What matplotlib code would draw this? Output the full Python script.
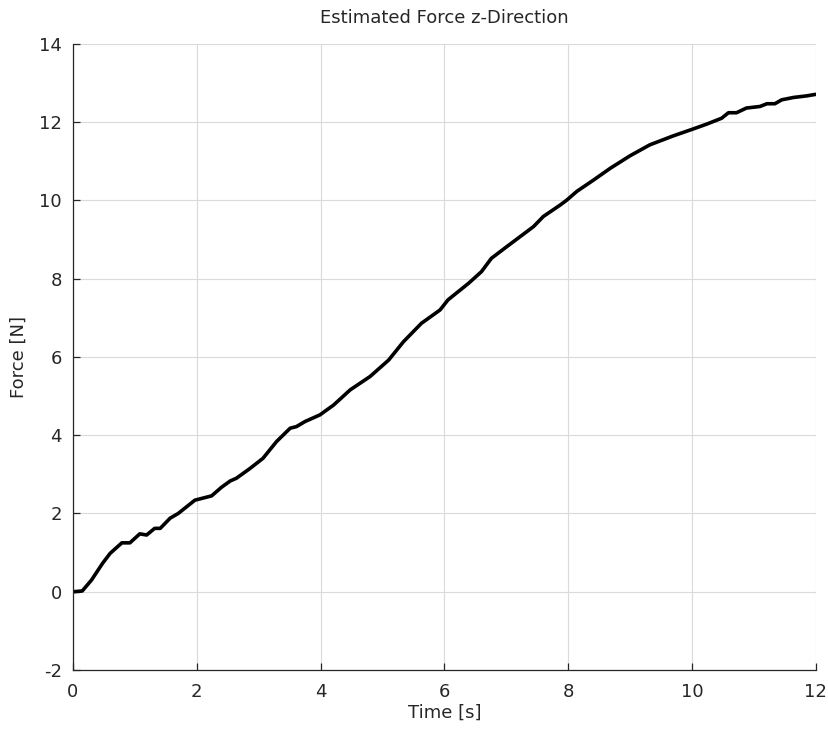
import numpy as np
import matplotlib.pyplot as plt

plt.rcParams["axes.unicode_minus"] = False

# estimated vertical force over the run
t_s = [0.0, 0.15, 0.3, 0.48, 0.60, 0.79, 0.92, 1.08, 1.19, 1.32, 1.41, 1.57,
       1.70, 1.97, 2.24, 2.40, 2.54, 2.64, 2.86, 3.07, 3.29, 3.51, 3.61, 3.75,
       3.99, 4.21, 4.48, 4.80, 5.10, 5.34, 5.63, 5.93, 6.06, 6.39, 6.60, 6.76,
       7.01, 7.44, 7.60, 7.87, 7.98, 8.14, 8.41, 8.68, 9.00, 9.32, 9.70, 10.01,
       10.24, 10.48, 10.59, 10.72, 10.88, 11.10, 11.21, 11.34, 11.45, 11.64,
       11.85, 12.0]
force_n = [0.0, 0.02, 0.30, 0.73, 0.98, 1.25, 1.25, 1.48, 1.45, 1.62, 1.62, 1.88,
           2.00, 2.34, 2.45, 2.67, 2.83, 2.90, 3.15, 3.41, 3.84, 4.18, 4.22, 4.35,
           4.52, 4.77, 5.16, 5.50, 5.92, 6.39, 6.86, 7.20, 7.46, 7.88, 8.18, 8.52,
           8.82, 9.33, 9.59, 9.88, 10.01, 10.23, 10.52, 10.82, 11.14, 11.42, 11.65,
           11.82, 11.95, 12.10, 12.24, 12.24, 12.36, 12.40, 12.47, 12.47, 12.57,
           12.63, 12.67, 12.71]

x_ticks = [0, 2, 4, 6, 8, 10, 12]
y_ticks = [-2, 0, 2, 4, 6, 8, 10, 12, 14]

fig = plt.figure(figsize=(8.29, 7.31), dpi=100)
ax = fig.add_axes([0.088, 0.0834, 0.896, 0.8566])

ax.plot(t_s, force_n, color="black", lw=2.6, solid_joinstyle="round",
        solid_capstyle="round")

ax.set_xlim(0, 12)
ax.set_ylim(-2, 14)
ax.set_xticks(x_ticks)
ax.set_yticks(y_ticks)
ax.grid(True, color="#dadada", lw=0.8)
ax.set_axisbelow(True)

for side in ["top", "right"]:
    ax.spines[side].set_visible(False)
for side in ["left", "bottom"]:
    ax.spines[side].set_color("#262626")
    ax.spines[side].set_linewidth(0.9)
ax.tick_params(direction="in", length=5, width=0.9, color="#262626",
               labelcolor="#262626", labelsize=13)
ax.tick_params(axis="x", pad=9)
ax.tick_params(axis="y", pad=8)

ax.set_xlabel("Time [s]", fontsize=13, color="#262626", labelpad=2)
ax.set_ylabel("Force [N]", fontsize=13, color="#262626", labelpad=8)
ax.set_title("Estimated Force z-Direction", fontsize=13, color="#262626", pad=15)

fig.savefig("out.png", dpi=100)
